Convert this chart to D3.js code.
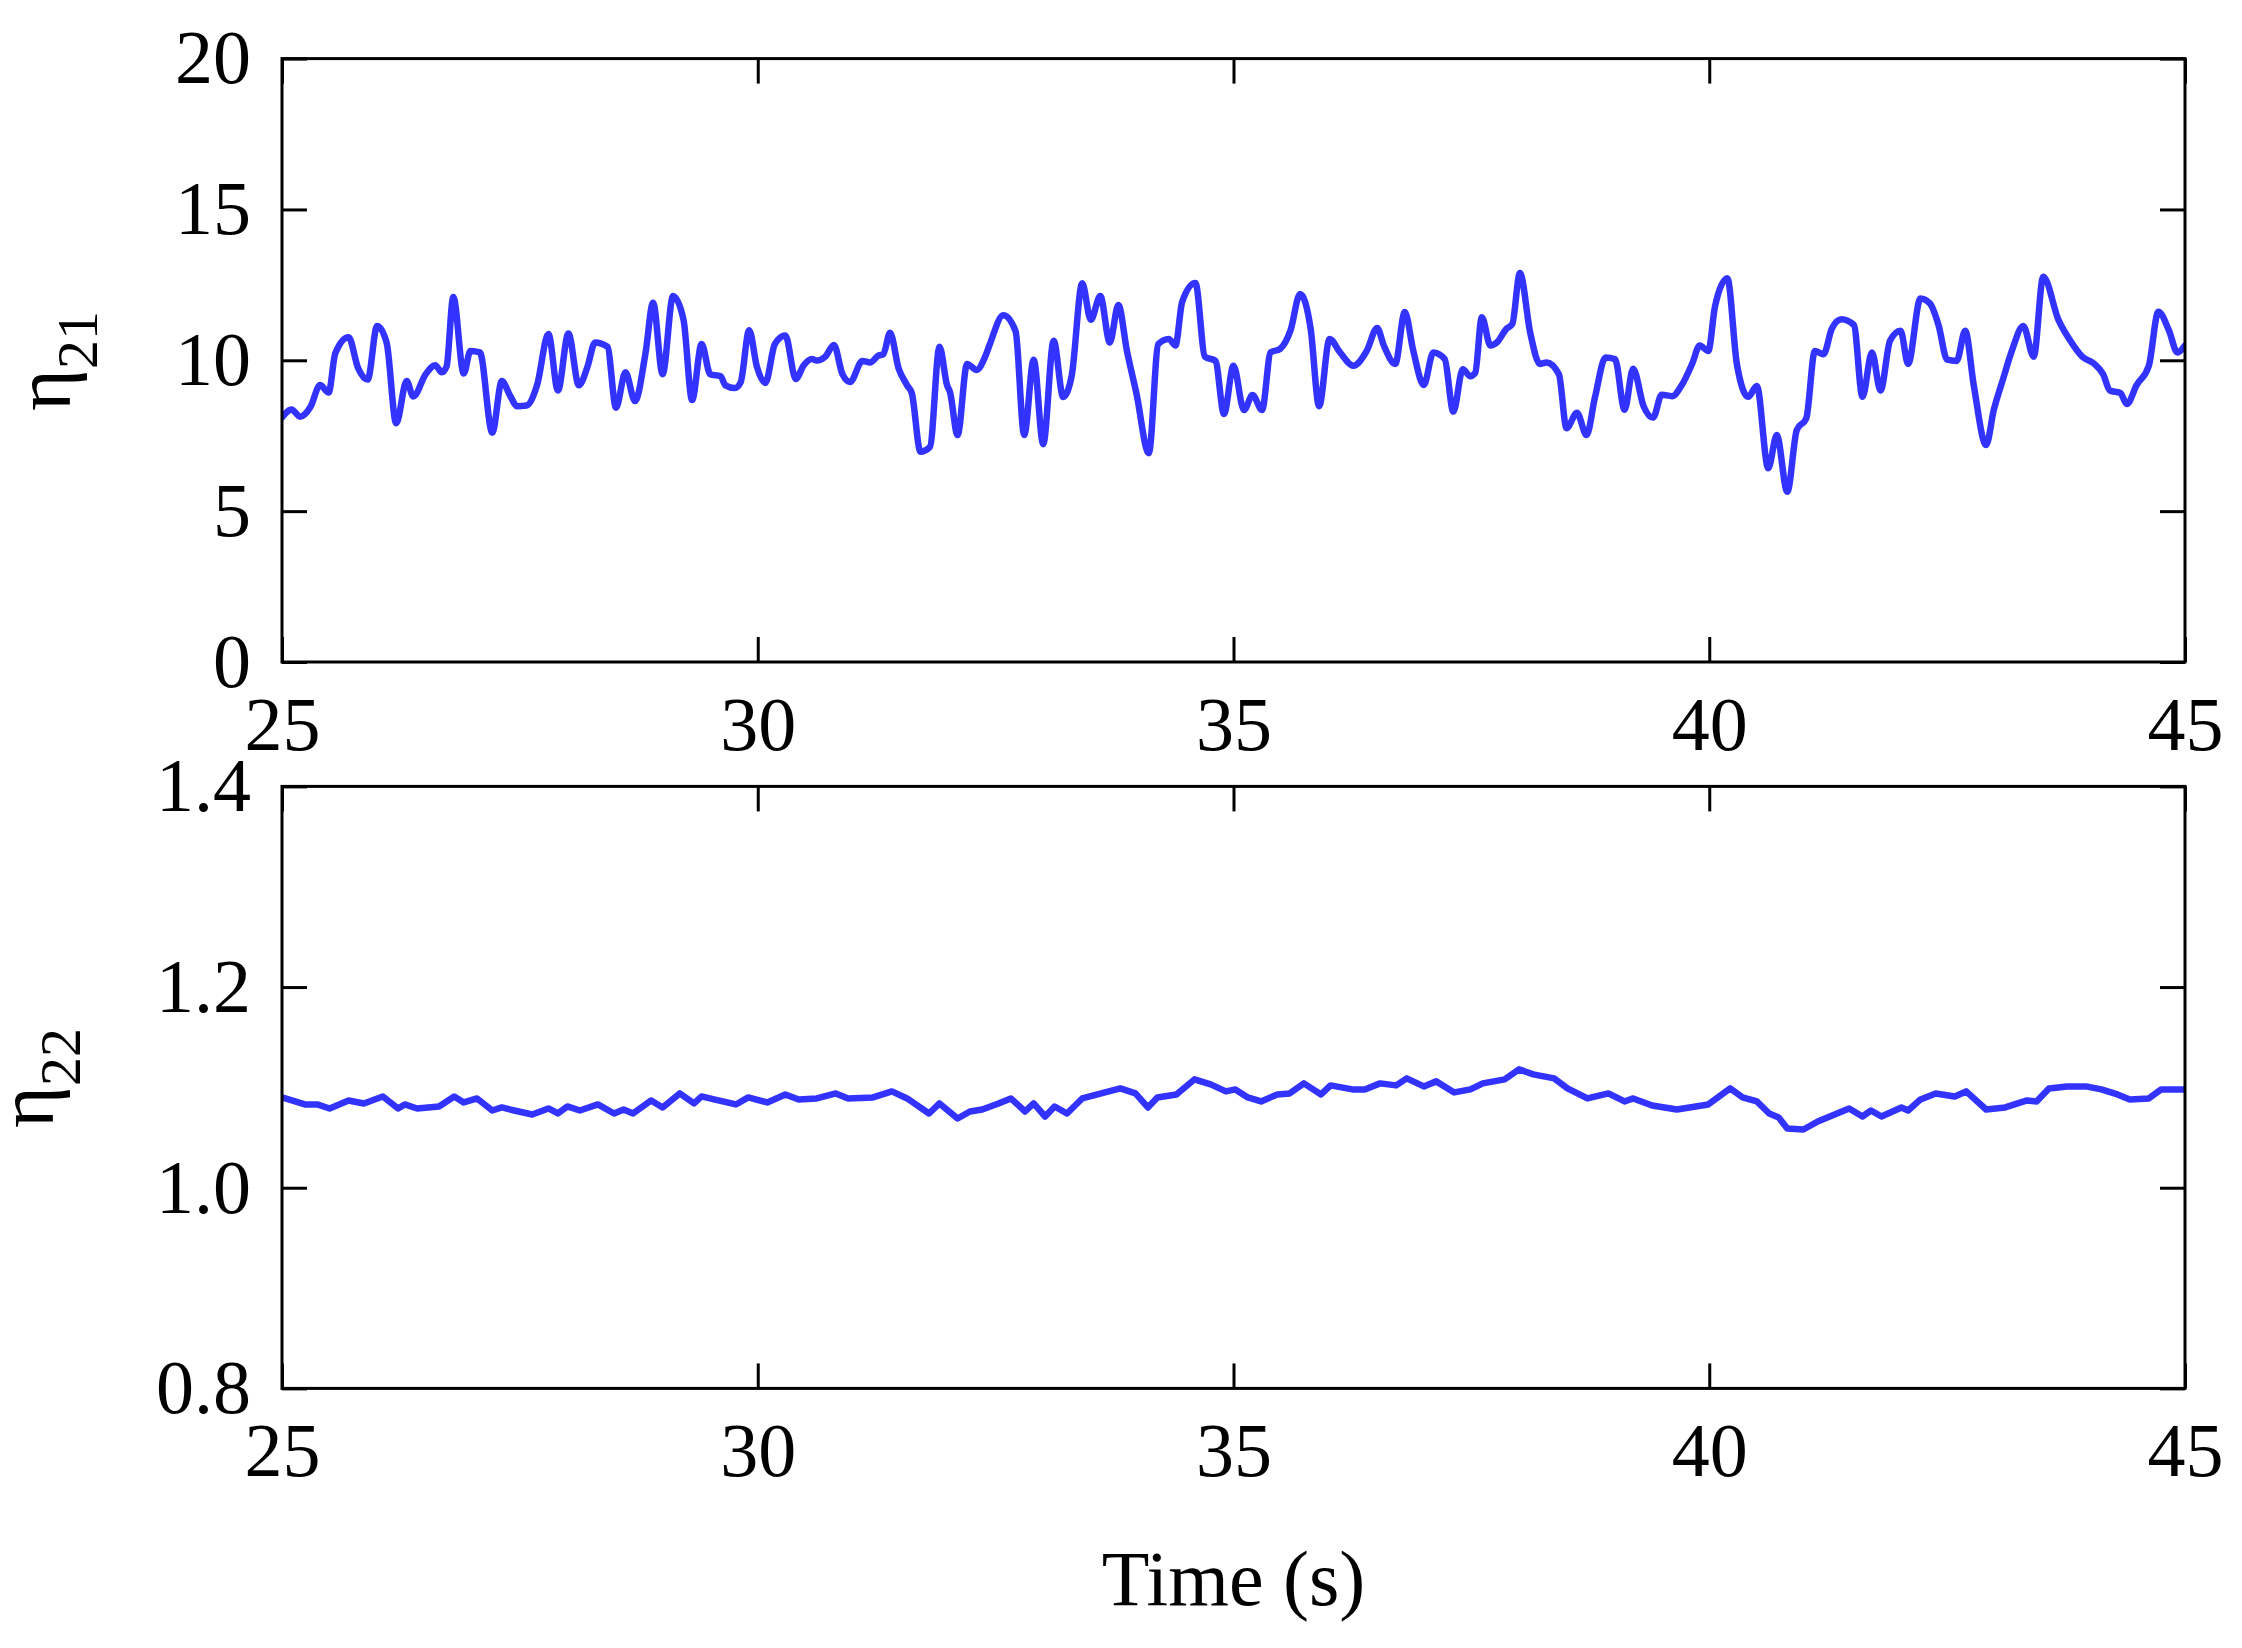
<!DOCTYPE html>
<html>
<head>
<meta charset="utf-8">
<script src="https://cdn.jsdelivr.net/npm/d3@7"></script>
<style>
  html, body { margin: 0; padding: 0; background: #fff; }
  svg { display: block; }
  text { font-family: "Liberation Serif", "Times New Roman", serif; fill: #000; }
</style>
</head>
<body>
<svg id="chart" width="2242" height="1648"></svg>
<script>
// ---------------- data ----------------
const xTicks = [25, 30, 35, 40, 45];
const y21Ticks = [0, 5, 10, 15, 20];
const y22Ticks = [0.8, 1.0, 1.2, 1.4];

const t21 = [25.00,25.10,25.19,25.30,25.40,25.49,25.56,25.70,25.80,25.90,26.00,26.10,26.20,26.31,26.38,26.51,26.61,26.68,26.73,26.80,26.91,26.98,27.08,27.21,27.31,27.40,27.47,27.57,27.68,27.80,27.90,28.01,28.12,28.21,28.29,28.42,28.51,28.61,28.71,28.82,28.90,29.00,29.11,29.22,29.31,29.41,29.50,29.61,29.66,29.76,29.82,29.91,29.99,30.08,30.18,30.29,30.40,30.48,30.57,30.62,30.71,30.80,30.89,30.97,31.10,31.18,31.27,31.32,31.39,31.48,31.57,31.62,31.71,31.81,31.91,31.99,32.02,32.10,32.20,32.30,32.39,32.44,32.58,32.71,32.80,32.90,33.00,33.11,33.21,33.30,33.41,33.50,33.60,33.70,33.79,33.88,33.98,34.11,34.21,34.32,34.39,34.46,34.60,34.70,34.81,34.90,35.00,35.11,35.20,35.30,35.39,35.49,35.60,35.70,35.81,35.90,36.01,36.12,36.26,36.40,36.51,36.58,36.70,36.80,36.89,37.00,37.10,37.22,37.31,37.41,37.49,37.54,37.61,37.70,37.77,37.87,37.93,38.01,38.12,38.22,38.29,38.42,38.50,38.61,38.71,38.80,38.91,39.01,39.11,39.20,39.31,39.41,39.50,39.61,39.71,39.82,39.90,39.99,40.06,40.19,40.29,40.41,40.50,40.62,40.71,40.82,40.92,41.02,41.11,41.20,41.29,41.39,41.52,41.61,41.71,41.80,41.90,42.01,42.09,42.22,42.32,42.41,42.50,42.60,42.69,42.78,42.91,42.99,43.09,43.18,43.30,43.41,43.51,43.67,43.79,43.92,44.04,44.14,44.21,44.32,44.39,44.49,44.62,44.72,44.83,44.92,45.00];
const eta21 = [8.10,8.37,8.13,8.46,9.18,8.93,10.23,10.76,9.74,9.36,11.14,10.58,7.91,9.31,8.80,9.54,9.84,9.60,9.80,12.10,9.56,10.31,10.26,7.60,9.31,8.81,8.48,8.50,9.17,10.87,9.00,10.89,9.17,9.78,10.59,10.45,8.43,9.60,8.65,10.23,11.91,9.54,12.13,11.34,8.68,10.54,9.54,9.47,9.17,9.08,9.27,11.00,9.80,9.25,10.54,10.82,9.38,9.82,10.04,9.99,10.12,10.51,9.54,9.28,9.98,9.93,10.16,10.20,10.91,9.74,9.17,8.90,6.97,7.13,10.45,9.17,8.95,7.52,9.88,9.68,10.12,10.54,11.49,10.96,7.52,10.02,7.22,10.65,8.78,9.50,12.55,11.34,12.13,10.59,11.83,10.31,8.90,6.92,10.54,10.71,10.49,11.93,12.56,10.12,9.98,8.22,9.82,8.35,8.85,8.35,10.26,10.38,11.00,12.20,11.06,8.48,10.71,10.26,9.82,10.31,11.07,10.49,9.88,11.60,10.31,9.18,10.26,10.04,8.30,9.70,9.47,9.58,11.43,10.49,10.60,11.05,11.20,12.89,10.89,9.88,9.93,9.54,7.75,8.26,7.52,8.79,10.09,10.04,8.36,9.72,8.48,8.10,8.86,8.81,9.17,9.88,10.49,10.31,11.78,12.72,9.88,8.79,9.15,6.42,7.52,5.64,7.69,8.08,10.31,10.20,11.06,11.36,11.17,8.79,10.26,9.00,10.65,10.98,9.88,12.05,11.88,11.16,10.02,9.98,10.98,9.17,7.19,8.35,9.40,10.31,11.14,10.12,12.77,11.34,10.67,10.12,9.90,9.54,9.00,8.92,8.55,9.17,9.82,11.61,11.00,10.26,10.49];

const t22 = [25.00,25.24,25.37,25.50,25.70,25.86,26.06,26.22,26.29,26.42,26.65,26.81,26.91,27.05,27.21,27.31,27.44,27.63,27.80,27.90,28.00,28.13,28.32,28.49,28.59,28.69,28.88,29.00,29.18,29.33,29.41,29.54,29.77,29.90,30.10,30.29,30.43,30.62,30.82,30.95,31.21,31.41,31.57,31.80,31.91,32.10,32.23,32.36,32.53,32.66,32.81,32.90,33.02,33.12,33.25,33.41,33.61,33.81,33.97,34.10,34.20,34.40,34.59,34.76,34.92,35.02,35.15,35.29,35.46,35.59,35.74,35.92,36.02,36.25,36.38,36.54,36.71,36.82,37.00,37.13,37.32,37.49,37.62,37.85,38.00,38.15,38.37,38.51,38.72,38.94,39.11,39.20,39.40,39.66,39.99,40.22,40.35,40.50,40.63,40.73,40.82,40.99,41.14,41.47,41.61,41.70,41.81,42.02,42.09,42.22,42.38,42.58,42.70,42.91,43.11,43.34,43.44,43.57,43.76,43.96,44.12,44.29,44.42,44.62,44.75,45.00];
const eta22 = [1.090,1.083,1.083,1.079,1.087,1.084,1.091,1.079,1.083,1.079,1.081,1.091,1.085,1.089,1.077,1.080,1.077,1.073,1.079,1.074,1.081,1.077,1.083,1.074,1.078,1.074,1.087,1.080,1.094,1.084,1.091,1.088,1.083,1.090,1.085,1.093,1.088,1.089,1.094,1.089,1.090,1.096,1.089,1.074,1.084,1.069,1.076,1.078,1.084,1.089,1.076,1.084,1.071,1.081,1.074,1.089,1.094,1.099,1.094,1.080,1.090,1.093,1.108,1.103,1.096,1.098,1.090,1.086,1.093,1.094,1.104,1.093,1.102,1.098,1.098,1.104,1.102,1.109,1.101,1.106,1.095,1.098,1.104,1.108,1.118,1.113,1.109,1.099,1.089,1.094,1.086,1.089,1.082,1.078,1.083,1.099,1.090,1.086,1.074,1.070,1.059,1.058,1.066,1.079,1.071,1.077,1.071,1.080,1.077,1.088,1.094,1.091,1.096,1.078,1.080,1.087,1.086,1.099,1.101,1.101,1.098,1.093,1.088,1.089,1.098,1.098];

// ---------------- layout ----------------
const svg = d3.select("#chart");
const L = 282, R = 2185;
const panels = [
  { top: 58.6, bottom: 662, domain: [0, 20], ticks: y21Ticks, fmt: d3.format("d"),
    t: t21, v: eta21, curve: d3.curveMonotoneX, sub: "21", labX: 70, labY: 361 },
  { top: 786.4, bottom: 1388.4, domain: [0.8, 1.4], ticks: y22Ticks, fmt: d3.format(".1f"),
    t: t22, v: eta22, curve: d3.curveLinear, sub: "22", labX: 53, labY: 1078 }
];

const x = d3.scaleLinear().domain([25, 45]).range([L, R]);
const FS = 76;

panels.forEach((p, i) => {
  const y = d3.scaleLinear().domain(p.domain).range([p.bottom, p.top]);
  const g = svg.append("g");

  const clipId = "clip" + i;
  svg.append("clipPath").attr("id", clipId)
    .append("rect").attr("x", L).attr("y", p.top).attr("width", R - L).attr("height", p.bottom - p.top);

  // data line
  const pts = p.t.map((t, k) => [t, p.v[k]]);
  g.append("path")
    .datum(pts)
    .attr("clip-path", `url(#${clipId})`)
    .attr("fill", "none")
    .attr("stroke", "#3333ff")
    .attr("stroke-width", 6.5)
    .attr("stroke-linejoin", "round")
    .attr("stroke-linecap", "round")
    .attr("d", d3.line().x(d => x(d[0])).y(d => y(d[1])).curve(p.curve));

  const styleAxis = (sel, showText) => {
    sel.select(".domain").remove();
    sel.selectAll(".tick line").attr("stroke", "#000").attr("stroke-width", 3);
    sel.selectAll(".tick text")
      .style("font-family", '"Liberation Serif", "Times New Roman", serif')
      .style("font-size", FS + "px").attr("fill", "#000");
    if (!showText) sel.selectAll(".tick text").remove();
  };

  // left axis (labels)
  g.append("g").attr("transform", `translate(${L},0)`)
    .call(d3.axisLeft(y).tickValues(p.ticks).tickFormat(p.fmt).tickSize(-25).tickPadding(31))
    .call(s => styleAxis(s, true));
  // right axis (ticks only)
  g.append("g").attr("transform", `translate(${R},0)`)
    .call(d3.axisRight(y).tickValues(p.ticks).tickSize(-25))
    .call(s => styleAxis(s, false));
  // bottom axis (labels)
  g.append("g").attr("transform", `translate(0,${p.bottom})`)
    .call(d3.axisBottom(x).tickValues(xTicks).tickFormat(d3.format("d")).tickSize(-25).tickPadding(34))
    .call(s => styleAxis(s, true));
  // top axis (ticks only)
  g.append("g").attr("transform", `translate(0,${p.top})`)
    .call(d3.axisTop(x).tickValues(xTicks).tickSize(-25))
    .call(s => styleAxis(s, false));

  // frame
  g.append("rect")
    .attr("x", L).attr("y", p.top)
    .attr("width", R - L).attr("height", p.bottom - p.top)
    .attr("fill", "none").attr("stroke", "#000").attr("stroke-width", 3);

  // y label (eta with subscript)
  const lab = svg.append("text")
    .attr("transform", `translate(${p.labX},${p.labY}) rotate(-90)`)
    .attr("text-anchor", "middle");
  lab.append("tspan").style("font-size", "80px").text("η");
  lab.append("tspan").style("font-size", "58px").attr("dy", 27).text(p.sub);
});

// x label
svg.append("text")
  .attr("x", (L + R) / 2).attr("y", 1605)
  .attr("text-anchor", "middle")
  .style("font-size", "78px")
  .text("Time (s)");
</script>
</body>
</html>
